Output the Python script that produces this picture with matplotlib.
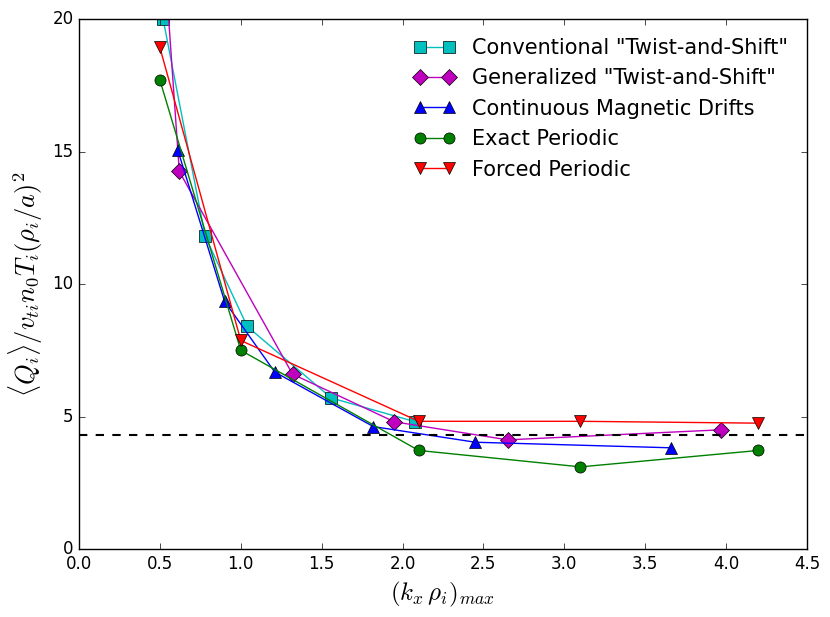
import matplotlib
matplotlib.use("Agg")
import matplotlib.pyplot as plt

plt.style.use("classic")

# ------------------------------------------------------------
# Data
# ------------------------------------------------------------

conv_x = [0.52, 0.78, 1.04, 1.56, 2.08]
conv_q = [20.0, 11.8, 8.4, 5.7, 4.8]

gen_x = [0.52, 0.62, 1.32, 1.95, 2.65, 3.97]
gen_q = [23.0, 14.25, 6.6, 4.8, 4.12, 4.5]

drift_x = [0.61, 0.90, 1.21, 1.82, 2.45, 3.66]
drift_q = [15.07, 9.35, 6.68, 4.62, 4.03, 3.82]

exact_x = [0.50, 1.00, 2.10, 3.10, 4.20]
exact_q = [17.7, 7.5, 3.72, 3.1, 3.72]

forced_x = [0.50, 1.00, 2.10, 3.10, 4.20]
forced_q = [18.93, 7.87, 4.82, 4.82, 4.75]

reference_q = 4.32

fig = plt.figure(figsize=(8.3, 6.17), dpi=100)
ax = fig.add_axes([0.0952, 0.1102, 0.877, 0.8588])

ax.plot(conv_x, conv_q, "c-s", ms=8, label='Conventional "Twist-and-Shift"')
ax.plot(gen_x, gen_q, "m-D", ms=8, label='Generalized "Twist-and-Shift"')
ax.plot(drift_x, drift_q, "b-^", ms=8, label="Continuous Magnetic Drifts")
ax.plot(exact_x, exact_q, "g-o", ms=8, label="Exact Periodic")
ax.plot(forced_x, forced_q, "r-v", ms=8, label="Forced Periodic")

ax.axhline(reference_q, color="k", linestyle="--", linewidth=1.5)

ax.set_xlim(0, 4.5)
ax.set_ylim(0, 20)
ax.set_yticks([0, 5, 10, 15, 20])

ax.set_xlabel(r"$(k_x\,\rho_i)_{max}$", fontsize=18)
ax.set_ylabel(r"$\langle Q_i\rangle/v_{ti}n_0T_i(\rho_i/a)^2$", fontsize=19)

ax.legend(loc="upper right", frameon=False, fontsize=15, numpoints=2)

fig.savefig("out.png", dpi=100)
